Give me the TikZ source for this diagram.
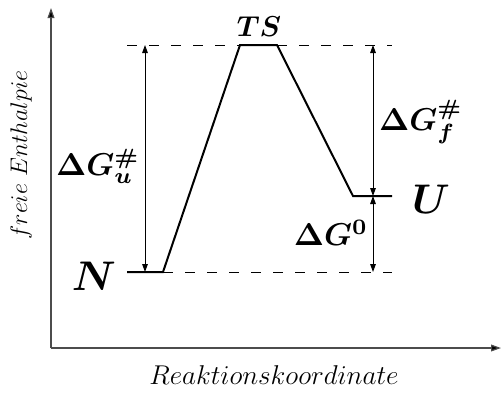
\documentclass[tikz,border=0pt]{standalone}
\usepackage{amsmath,bm}
\usetikzlibrary{arrows.meta}
\newcommand{\bigsym}[1]{\scalebox{2.07}{$\boldsymbol{#1}$}}
\newcommand{\dglbl}[1]{\scalebox{1.58}{$\boldsymbol{#1}$}}
\newcommand{\tslbltext}[1]{\scalebox{1.44}{$\boldsymbol{#1}$}}
\begin{document}
\begin{tikzpicture}[x=0.5pt,y=-0.5pt,
  axis/.style={line width=0.6pt,draw=black!70,-{Triangle[length=5pt,width=3.4pt,fill=black]}},
  profile/.style={line width=1pt,line join=miter},
  guide/.style={line width=0.45pt,dash pattern=on 5pt off 6pt},
  dim/.style={line width=0.45pt,{Triangle[length=4pt,width=2.8pt]}-{Triangle[length=4pt,width=2.8pt]}},
  lbl/.style={inner sep=1pt},
  xlbl/.style={font=\fontsize{12}{14}\selectfont},
  ylbl/.style={font=\fontsize{12}{14}\selectfont}]
\useasboundingbox (0,0) rectangle (502,392);
% coordinates
\coordinate (O) at (51,348);
\coordinate (Ytop) at (51,8);
\coordinate (Xend) at (501,348);
\coordinate (N1) at (127,272);
\coordinate (N2) at (163,272);
\coordinate (T1) at (240,45);
\coordinate (T2) at (277,45);
\coordinate (U1) at (353,196);
\coordinate (U2) at (392,196);
\coordinate (DT0) at (127,45);
\coordinate (DT3) at (392,45);
\coordinate (DN3) at (392,272);
\coordinate (AuB) at (145,272);
\coordinate (AuT) at (145,45);
\coordinate (AfT) at (373,45);
\coordinate (AfB) at (373,196);
\coordinate (A0B) at (373,272);
% axes
\draw[axis] (O) -- (Ytop);
\draw[axis] (O) -- (Xend);
% guides
\draw[guide] (DT0) -- (T1);
\draw[guide] (T2) -- (DT3);
\draw[guide] (N2) -- (DN3);
% profile
\draw[profile] (N1) -- (N2) -- (T1) -- (T2) -- (U1) -- (U2);
% dimension arrows
\draw[dim] (AuB) -- (AuT);
\draw[dim] (AfT) -- (AfB);
\draw[dim] (AfB) -- (A0B);
% labels
\node (lN) at (94,276) {\bigsym{N}};
\node (lU) at (431,199) {\bigsym{U}};
\node (lTS) at (259,27) {\tslbltext{TS}};
\node[lbl] (lGu) at (98,166) {\dglbl{\Delta G^{\#}_{u}}};
\node[lbl] (lGf) at (421,122) {\dglbl{\Delta G^{\#}_{f}}};
\node[lbl] (lG0) at (331,233) {\dglbl{\Delta G^{0}}};
\node[ylbl,rotate=90] (ly) at (21,155) {$freie\ Enthalpie$};
\node[xlbl] (lx) at (274,375) {\scalebox{1.133}{$Reaktionskoordinate$}};
\end{tikzpicture}
\end{document}
